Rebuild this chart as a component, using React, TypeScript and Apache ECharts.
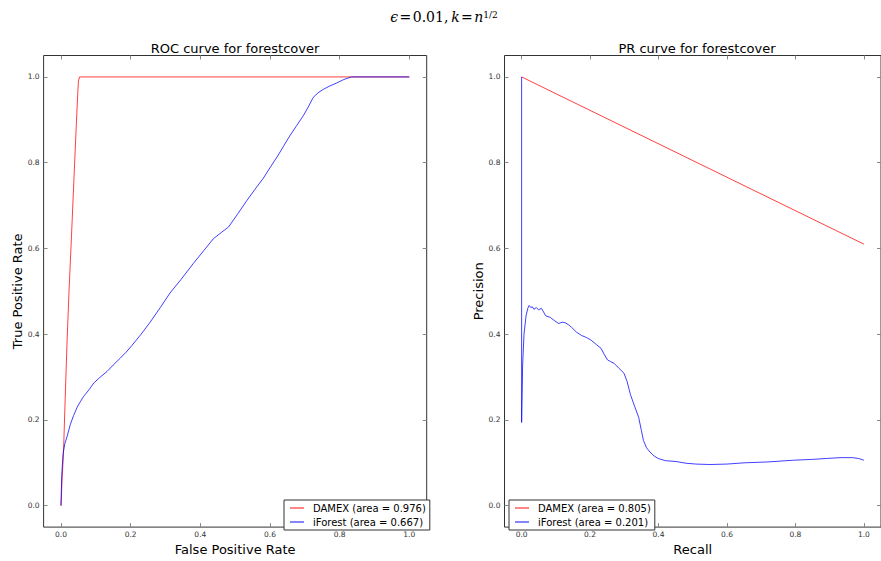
import React, { useEffect, useRef } from "react";
import * as echarts from "echarts";

const tickValues = [0, 0.2, 0.4, 0.6, 0.8, 1.0];

const rocDamexX = [0, 0.003, 0.007, 0.012, 0.017, 0.023, 0.03, 0.037, 0.044, 0.048, 0.05, 0.053, 0.06, 1.0];
const rocDamexY = [0, 0.06, 0.12, 0.25, 0.374, 0.5, 0.627, 0.76, 0.89, 0.96, 0.99, 1.0, 1.0, 1.0];

const rocIforestX = [0, 0.002, 0.006, 0.011, 0.017, 0.027, 0.036, 0.046, 0.055, 0.065, 0.08, 0.094, 0.11, 0.132, 0.15, 0.17, 0.187, 0.204, 0.23, 0.256, 0.285, 0.313, 0.345, 0.38, 0.41, 0.438, 0.46, 0.481, 0.507, 0.533, 0.557, 0.581, 0.603, 0.624, 0.64, 0.658, 0.677, 0.696, 0.71, 0.724, 0.738, 0.753, 0.772, 0.792, 0.812, 0.834, 0.9, 1.0];
const rocIforestY = [0, 0.07, 0.122, 0.145, 0.16, 0.19, 0.21, 0.229, 0.242, 0.255, 0.27, 0.286, 0.298, 0.313, 0.328, 0.344, 0.358, 0.374, 0.4, 0.428, 0.462, 0.496, 0.528, 0.565, 0.595, 0.623, 0.637, 0.65, 0.68, 0.711, 0.738, 0.764, 0.792, 0.818, 0.84, 0.864, 0.887, 0.91, 0.93, 0.952, 0.963, 0.971, 0.979, 0.986, 0.994, 1.0, 1.0, 1.0];

const prDamexX = [0, 1.0];
const prDamexY = [1.0, 0.61];

const prIforestX = [0, 0, 0.003, 0.007, 0.013, 0.018, 0.022, 0.027, 0.031, 0.036, 0.043, 0.049, 0.058, 0.064, 0.07, 0.084, 0.095, 0.108, 0.12, 0.129, 0.137, 0.146, 0.16, 0.175, 0.19, 0.203, 0.218, 0.232, 0.242, 0.251, 0.26, 0.27, 0.285, 0.299, 0.308, 0.318, 0.33, 0.342, 0.35, 0.356, 0.365, 0.375, 0.387, 0.399, 0.42, 0.451, 0.48, 0.509, 0.55, 0.6, 0.652, 0.72, 0.795, 0.85, 0.89, 0.93, 0.967, 0.985, 1.0];
const prIforestY = [1.0, 0.194, 0.328, 0.4, 0.443, 0.46, 0.467, 0.462, 0.464, 0.458, 0.462, 0.457, 0.46, 0.452, 0.443, 0.439, 0.432, 0.425, 0.428, 0.426, 0.422, 0.416, 0.405, 0.397, 0.392, 0.386, 0.376, 0.367, 0.352, 0.34, 0.336, 0.332, 0.32, 0.309, 0.29, 0.259, 0.232, 0.206, 0.175, 0.152, 0.135, 0.125, 0.116, 0.11, 0.105, 0.103, 0.099, 0.097, 0.096, 0.097, 0.1, 0.102, 0.106, 0.108, 0.11, 0.112, 0.112, 0.11, 0.106];

const rocNames = ["DAMEX (area = 0.976)", "iForest (area = 0.667)"];
const prNames = ["DAMEX (area = 0.805)", "iForest (area = 0.201)"];

const zip = (xs: number[], ys: number[]) => xs.map((x, i) => [x, ys[i]]);

const FONT = "DejaVu Sans";
const RED = "rgba(255,0,0,0.75)";
const BLUE = "rgba(0,0,255,0.75)";

function mainAxis(gridIndex: number, kind: "x" | "y", name: string) {
  return {
    type: "value",
    gridIndex,
    min: -0.05,
    max: 1.05,
    position: kind === "x" ? "bottom" : "left",
    name,
    nameLocation: "middle",
    nameGap: kind === "x" ? 11 : 18,
    nameTextStyle: { fontFamily: FONT, fontSize: 13, color: "#000" },
    axisLine: { show: false, onZero: false },
    splitLine: { show: false },
    axisTick: { show: true, inside: true, length: 4, lineStyle: { color: "#888", width: 1 }, customValues: tickValues },
    axisLabel: {
      show: true,
      margin: kind === "x" ? 3 : 4,
      fontFamily: FONT,
      fontSize: 7.5,
      color: "#333",
      customValues: tickValues,
      formatter: (v: number) => v.toFixed(1),
    },
  };
}

function mirrorAxis(gridIndex: number, kind: "x" | "y") {
  return {
    type: "value",
    gridIndex,
    min: -0.05,
    max: 1.05,
    position: kind === "x" ? "top" : "right",
    axisLine: { show: false, onZero: false },
    splitLine: { show: false },
    axisTick: { show: true, inside: true, length: 4, lineStyle: { color: "#888", width: 1 }, customValues: tickValues },
    axisLabel: { show: false },
  };
}

function legendOf(names: string[], left: number) {
  return {
    data: names,
    orient: "vertical",
    left,
    top: 500,
    padding: [2, 4, 2, 6],
    itemGap: 2,
    itemWidth: 14,
    itemHeight: 1.3,
    icon: "rect",
    selectedMode: false,
    borderColor: "#333",
    borderWidth: 1,
    borderRadius: 0,
    backgroundColor: "#fff",
    textStyle: { fontFamily: FONT, fontSize: 10, color: "#000", lineHeight: 12, padding: [0, 0, 0, 4] },
  };
}

function lineSeries(name: string, data: number[][], color: string, gi: number) {
  return {
    type: "line",
    name,
    xAxisIndex: gi * 2,
    yAxisIndex: gi * 2,
    data,
    showSymbol: false,
    symbol: "none",
    lineStyle: { color, width: 1 },
    itemStyle: { color },
    clip: true,
  };
}

export default function App() {
  const ref = useRef<HTMLDivElement>(null);
  useEffect(() => {
    if (!ref.current) return;
    const chart = echarts.init(ref.current, undefined, { renderer: "svg" });
    const option = {
      animation: false,
      backgroundColor: "#fff",
      grid: [
        { left: 43.6, top: 55.5, width: 383.1, height: 479.3, show: true, borderColor: "#333", borderWidth: 1, backgroundColor: "#fff" },
        { left: 504.5, top: 55.5, width: 384.7, height: 479.3, show: true, borderColor: "#333", borderWidth: 1, backgroundColor: "#fff" },
      ],
      xAxis: [
        mainAxis(0, "x", "False Positive Rate"),
        mirrorAxis(0, "x"),
        mainAxis(1, "x", "Recall"),
        mirrorAxis(1, "x"),
      ],
      yAxis: [
        mainAxis(0, "y", "True Positive Rate"),
        mirrorAxis(0, "y"),
        mainAxis(1, "y", "Precision"),
        mirrorAxis(1, "y"),
      ],
      legend: [legendOf(rocNames, 284), legendOf(prNames, 509)],
      series: [
        lineSeries(rocNames[0], zip(rocDamexX, rocDamexY), RED, 0),
        lineSeries(rocNames[1], zip(rocIforestX, rocIforestY), BLUE, 0),
        lineSeries(prNames[0], zip(prDamexX, prDamexY), RED, 1),
        lineSeries(prNames[1], zip(prIforestX, prIforestY), BLUE, 1),
      ],
      graphic: [
        {
          type: "text",
          x: 444,
          y: 17,
          style: {
            text: "{i|ϵ}{n|\u200A=\u200A0.01,\u2009}{i|k}{n|\u200A=\u200A}{i|n}{s|1/2}",
            align: "center",
            verticalAlign: "middle",
            rich: {
              i: { fontFamily: "DejaVu Serif", fontStyle: "italic", fontSize: 14, fill: "#000" },
              n: { fontFamily: "DejaVu Serif", fontSize: 14, fill: "#000" },
              s: { fontFamily: "DejaVu Serif", fontSize: 9, fill: "#000", verticalAlign: "top" },
            },
          },
        },
        {
          type: "text",
          x: 235,
          y: 48,
          style: { text: "ROC curve for forestcover", align: "center", verticalAlign: "middle", fontFamily: FONT, fontSize: 13, fill: "#000" },
        },
        {
          type: "text",
          x: 697,
          y: 48,
          style: { text: "PR curve for forestcover", align: "center", verticalAlign: "middle", fontFamily: FONT, fontSize: 13, fill: "#000" },
        },
      ],
    };
    chart.setOption(option as any);
    return () => chart.dispose();
  }, []);
  return <div ref={ref} style={{ position: "fixed", left: 0, top: 0, width: 881, height: 561 }} />;
}
